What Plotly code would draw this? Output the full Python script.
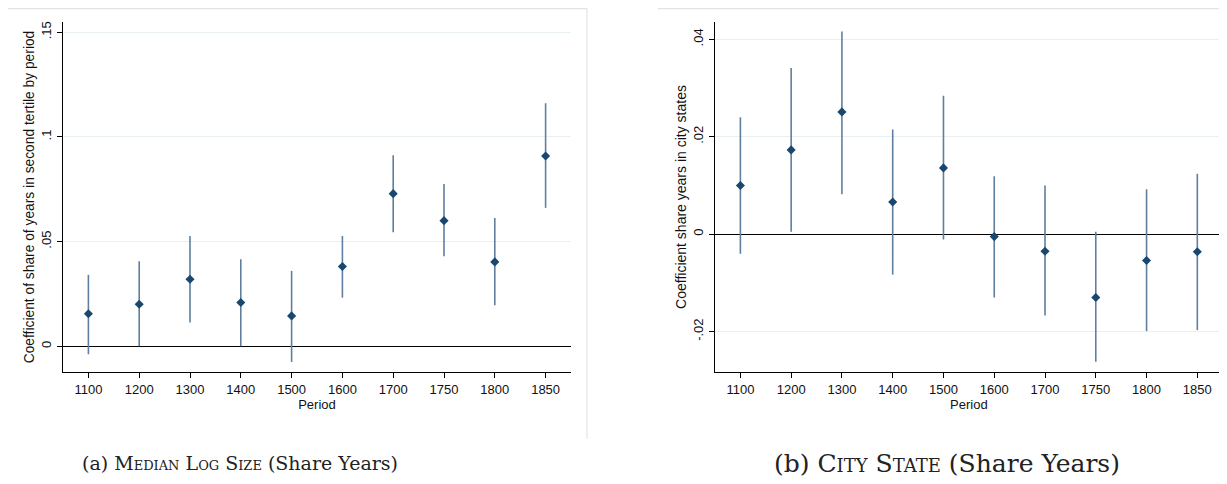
import plotly.graph_objects as go

periods = ["1100", "1200", "1300", "1400", "1500", "1600", "1700", "1750", "1800", "1850"]

# Panel (a): Median Log Size (Share Years)
coef_a = [0.0155, 0.0201, 0.0320, 0.0209, 0.0145, 0.0381, 0.0729, 0.0600, 0.0403, 0.0909]
upper_a = [0.0341, 0.0406, 0.0527, 0.0416, 0.0360, 0.0527, 0.0912, 0.0775, 0.0613, 0.1161]
lower_a = [-0.0038, 0.0000, 0.0113, 0.0000, -0.0075, 0.0232, 0.0545, 0.0430, 0.0196, 0.0661]

# Panel (b): City State (Share Years)
coef_b = [0.0100, 0.0173, 0.0251, 0.0066, 0.0136, -0.0005, -0.0035, -0.0130, -0.0054, -0.0036]
upper_b = [0.0240, 0.0341, 0.0416, 0.0215, 0.0284, 0.0119, 0.0100, 0.0005, 0.0092, 0.0124]
lower_b = [-0.0040, 0.0005, 0.0082, -0.0083, -0.0011, -0.0130, -0.0167, -0.0262, -0.0199, -0.0197]

yticks_a = [0, 0.05, 0.1, 0.15]
yticktext_a = ["0", ".05", ".1", ".15"]
yticks_b = [-0.02, 0, 0.02, 0.04]
yticktext_b = ["-.02", "0", ".02", ".04"]

ytitle_a = "Coefficient of share of years in second tertile by period"
ytitle_b = "Coefficient share years in city states"
xtitle = "Period"
caption_a = "(a) <span style='font-variant:small-caps'>Median Log Size</span> (Share Years)"
caption_b = "(b) <span style='font-variant:small-caps'>City State</span> (Share Years)"

# page body has an 8px default margin: figure is sized to fit the window
OFF = 8
W, H = 1227 - OFF, 484 - OFF
MARKER = "#1a476f"
CI = "#5e7fa0"
GRID = "#e9f0f2"
FONT = "Liberation Sans, Arial, sans-serif"

fig = go.Figure()

def add_panel(coef, up, lo, xa, ya):
    fig.add_trace(go.Scatter(
        x=periods, y=coef, mode="markers",
        marker=dict(symbol="diamond", size=7, color=MARKER),
        error_y=dict(type="data", symmetric=False,
                     array=[u - c for u, c in zip(up, coef)],
                     arrayminus=[c - l for c, l in zip(coef, lo)],
                     color=CI, thickness=1.6, width=0),
        xaxis=xa, yaxis=ya, showlegend=False, hoverinfo="x+y"))

add_panel(coef_a, upper_a, lower_a, "x", "y")
add_panel(coef_b, upper_b, lower_b, "x2", "y2")

def px_x(p):
    return (p - OFF) / W

def px_y(p):
    return 1 - (p - OFF) / H

xcommon = dict(type="category", range=[-0.5, 9.5], showgrid=False, zeroline=False,
               showline=True, linecolor="black", linewidth=1.2, ticks="outside",
               ticklen=5, tickcolor="black", tickwidth=1,
               tickfont=dict(family=FONT, size=13, color="#111"),
               title=dict(text=xtitle, font=dict(family=FONT, size=13, color="#111"), standoff=3))
ycommon = dict(showgrid=True, gridcolor=GRID, gridwidth=1, zeroline=True,
               zerolinecolor="black", zerolinewidth=1.1, showline=True,
               linecolor="black", linewidth=1.2, ticks="outside", ticklen=5,
               tickcolor="black", tickwidth=1, tickangle=-90, ticklabelstandoff=1,
               tickfont=dict(family=FONT, size=13, color="#111"))

fig.update_layout(
    width=W, height=H,
    margin=dict(l=0, r=0, t=0, b=0),
    paper_bgcolor="white", plot_bgcolor="white",
    font=dict(family=FONT),
    xaxis=dict(domain=[px_x(63), px_x(571)], anchor="y", **xcommon),
    yaxis=dict(domain=[px_y(372), px_y(22)], anchor="x", range=[-0.0123, 0.1549],
               tickvals=yticks_a, ticktext=yticktext_a,
               title=dict(text=ytitle_a, font=dict(family=FONT, size=13.8, color="#111"), standoff=0),
               **ycommon),
    xaxis2=dict(domain=[px_x(715), px_x(1222.7)], anchor="y2", **xcommon),
    yaxis2=dict(domain=[px_y(372), px_y(22)], anchor="x2", range=[-0.0283, 0.04356],
                tickvals=yticks_b, ticktext=yticktext_b,
                title=dict(text=ytitle_b, font=dict(family=FONT, size=14, color="#111"), standoff=0),
                **ycommon),
)

# Light frames around the graph regions
frame = dict(color="#e4e4e4", width=1.2)
fig.add_shape(type="line", xref="paper", yref="paper", x0=px_x(6), x1=px_x(587), y0=px_y(8.7), y1=px_y(8.7), line=frame)
fig.add_shape(type="line", xref="paper", yref="paper", x0=px_x(587), x1=px_x(587), y0=px_y(8.7), y1=px_y(439), line=frame)
fig.add_shape(type="line", xref="paper", yref="paper", x0=px_x(658), x1=1, y0=px_y(8.7), y1=px_y(8.7), line=frame)

cap_font_a = dict(family="DejaVu Serif, Liberation Serif, serif", size=19, color="#222")
cap_font_b = dict(family="DejaVu Serif, Liberation Serif, serif", size=25, color="#222")
fig.add_annotation(text=caption_a, xref="paper", yref="paper", x=px_x(240), y=px_y(463),
                   xanchor="center", yanchor="middle", showarrow=False, font=cap_font_a)
fig.add_annotation(text=caption_b, xref="paper", yref="paper", x=px_x(947), y=px_y(463),
                   xanchor="center", yanchor="middle", showarrow=False, font=cap_font_b)

fig.write_html("out.html")
